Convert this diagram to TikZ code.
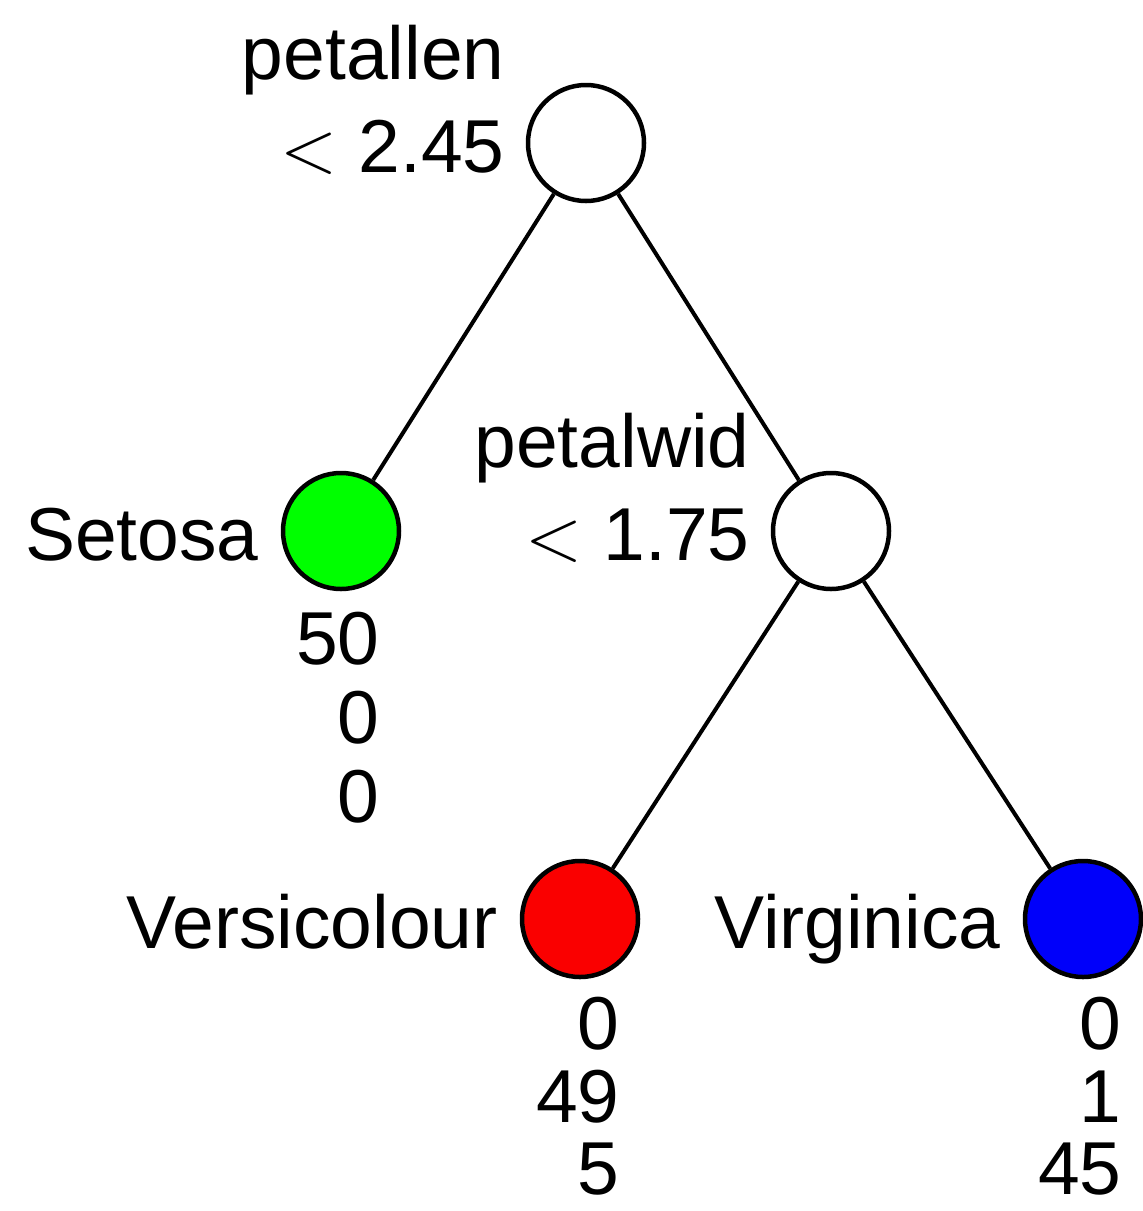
\RequirePackage{fix-cm}
\documentclass[tikz,border=0pt]{standalone}
\usepackage{fontspec}
\setmainfont{Liberation Sans}
\begin{document}
\begin{tikzpicture}[x=0.5pt,y=-0.5pt,
  treenode/.style={circle,draw=black,line width=2.25pt,minimum size=58pt,inner sep=0pt},
  lbl/.style={anchor=base east,inner sep=0pt,font=\fontsize{37.5}{40}\selectfont},
  cnt/.style={anchor=base east,inner sep=0pt,font=\fontsize{37.5}{40}\selectfont},
  edge/.style={line width=2pt}]
\useasboundingbox (0,0) rectangle (1142,1211);
% nodes
\node[treenode,fill=white] (root) at (586,143) {};
\node[treenode,fill={rgb,255:red,0;green,255;blue,0}] (setosa) at (341,531) {};
\node[treenode,fill=white] (pw) at (831,531) {};
\node[treenode,fill={rgb,255:red,250;green,0;blue,0}] (vers) at (580,919) {};
\node[treenode,fill={rgb,255:red,0;green,0;blue,250}] (virg) at (1083,919) {};
% edges
\draw[edge] (root) -- (setosa);
\draw[edge] (root) -- (pw);
\draw[edge] (pw) -- (vers);
\draw[edge] (pw) -- (virg);
% labels
\node[lbl] (l1a) at (505,79) {petallen};
\node[lbl] (l1b) at (505,172) {$<$ 2.45};
\node[lbl] (l2) at (259,560) {Setosa};
\node[lbl] (l3a) at (750,467) {petalwid};
\node[lbl] (l3b) at (750,560) {$<$ 1.75};
\node[lbl] (l4) at (498,948) {Versicolour};
\node[lbl] (l5) at (1001,948) {Virginica};
% counts
\node[cnt] (s1) at (380,664) {50};
\node[cnt] (s2) at (380,743) {0};
\node[cnt] (s3) at (380,822) {0};
\node[cnt] (v1) at (620,1049) {0};
\node[cnt] (v2) at (620,1122) {49};
\node[cnt] (v3) at (620,1194) {5};
\node[cnt] (g1) at (1122,1049) {0};
\node[cnt] (g2) at (1122,1122) {1};
\node[cnt] (g3) at (1122,1194) {45};
\end{tikzpicture}
\end{document}
